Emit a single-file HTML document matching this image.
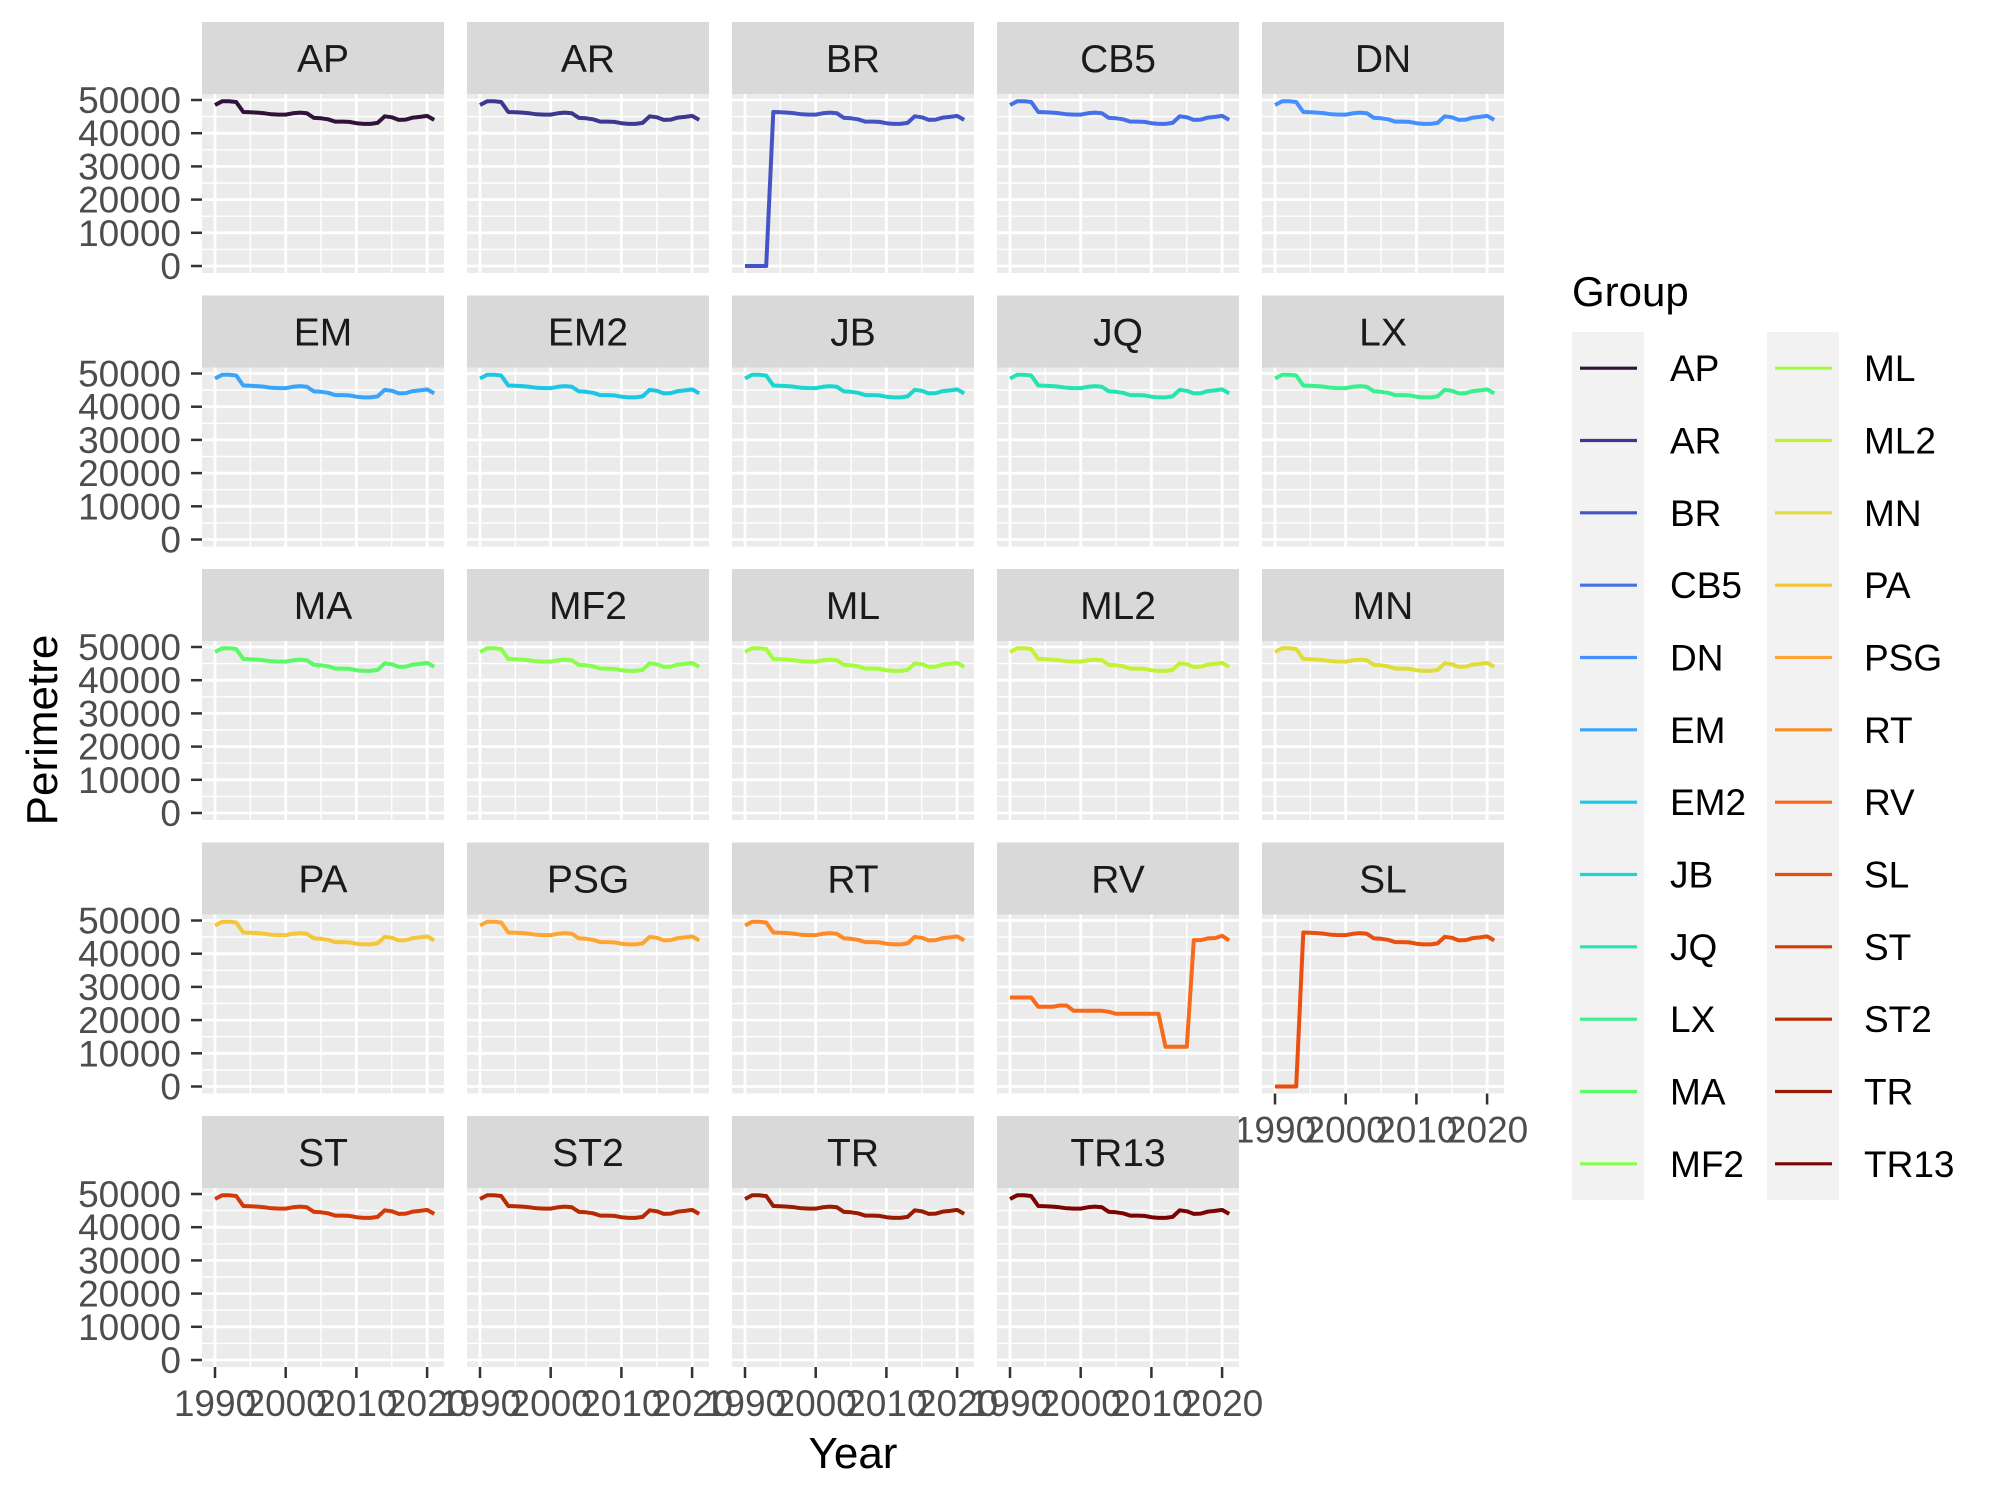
<!DOCTYPE html>
<html><head><meta charset="utf-8"><style>
html,body{margin:0;padding:0;background:#fff}
svg{display:block;font-family:"Liberation Sans",Arial,sans-serif}
</style></head><body>
<svg id="chart" width="2000" height="1500" viewBox="0 0 2000 1500" xmlns="http://www.w3.org/2000/svg"></svg>
<script>
const years = [1990,1991,1992,1993,1994,1995,1996,1997,1998,1999,2000,2001,2002,2003,2004,2005,2006,2007,2008,2009,2010,2011,2012,2013,2014,2015,2016,2017,2018,2019,2020,2021];
const groups = ["AP","AR","BR","CB5","DN","EM","EM2","JB","JQ","LX","MA","MF2","ML","ML2","MN","PA","PSG","RT","RV","SL","ST","ST2","TR","TR13"];
const colors = ["#30123b","#3e378f","#4454c4","#4670e8","#4490fe","#3aa4fc","#1dc6e4","#1bd5cf","#26e4b0","#3af08c","#5cf967","#88fe4c","#a4fc3c","#c4f133","#e0dd36","#f5c53a","#fea632","#fd8a26","#f66b19","#e7500e","#d23a07","#b72b03","#981c01","#7a0403"];
const baseSeries = [48500,49600,49600,49400,46400,46300,46200,46000,45700,45600,45600,46000,46200,46000,44600,44500,44200,43500,43500,43400,43000,42800,42800,43100,45100,44800,44000,44100,44700,44900,45200,44000];
const brSeries = [0,0,0,0,46400,46300,46200,46000,45700,45600,45600,46000,46200,46000,44600,44500,44200,43500,43500,43400,43000,42800,42800,43100,45100,44800,44000,44100,44700,44900,45200,44000];
const slSeries = [0,0,0,0,46400,46300,46200,46000,45700,45600,45600,46000,46200,46000,44600,44500,44200,43500,43500,43400,43000,42800,42800,43100,45100,44800,44000,44100,44700,44900,45200,44000];
const rvSeries = [26800,26800,26800,26800,24000,24000,24000,24400,24400,22800,22800,22800,22800,22800,22500,21900,21900,21900,21900,21900,21900,21900,12000,12000,12000,12000,44100,44100,44600,44700,45400,44000];
const yTicks = [0,10000,20000,30000,40000,50000];
const yTickLabels = ["0","10000","20000","30000","40000","50000"];
const xTicks = [1990,2000,2010,2020];
const xTickLabels = ["1990","2000","2010","2020"];
const seriesFor = {BR: brSeries, SL: slSeries, RV: rvSeries};

const NS = "http://www.w3.org/2000/svg";
const svg = document.getElementById("chart");
function mk(tag, attrs, parent){const e=document.createElementNS(NS,tag);for(const k in attrs)e.setAttribute(k,attrs[k]);(parent||svg).appendChild(e);return e;}

const PW=242, PH=179, SH=72, colX=[202,467,732,997,1262], rowPitch=273.5, top0=22;
function xScale(left,yr){return left+13+(yr-1990)*7.07;}
function yScale(ptop,v){return ptop+172-v*(166/50000);}

groups.forEach((g,i)=>{
  const r=Math.floor(i/5), c=i%5;
  const left=colX[c], stripTop=top0+r*rowPitch, ptop=stripTop+SH;
  const grp=mk("g",{});
  
  
  const strip=mk("rect",{x:left,y:stripTop,width:PW,height:SH,fill:"#d9d9d9"},grp);
  
  
  const st=mk("text",{x:left+PW/2,y:stripTop+SH/2+14,"text-anchor":"middle","font-size":39,fill:"#1a1a1a"},grp);
  st.textContent=g;
  
  
  const bg=mk("rect",{x:left,y:ptop,width:PW,height:PH,fill:"#ebebeb"},grp);
  
  
  [5000,15000,25000,35000,45000].forEach(v=>{const y=yScale(ptop,v);mk("line",{x1:left,x2:left+PW,y1:y,y2:y,stroke:"#fff","stroke-width":1.4},grp);});
  [1995,2005,2015].forEach(v=>{const x=xScale(left,v);mk("line",{x1:x,x2:x,y1:ptop,y2:ptop+PH,stroke:"#fff","stroke-width":1.4},grp);});
  yTicks.forEach(v=>{const y=yScale(ptop,v);mk("line",{x1:left,x2:left+PW,y1:y,y2:y,stroke:"#fff","stroke-width":2.8},grp);});
  xTicks.forEach(v=>{const x=xScale(left,v);mk("line",{x1:x,x2:x,y1:ptop,y2:ptop+PH,stroke:"#fff","stroke-width":2.8},grp);});
  const data=seriesFor[g]||baseSeries;
  const pts=years.map((yr,k)=>xScale(left,yr).toFixed(1)+","+yScale(ptop,data[k]).toFixed(1)).join(" ");
  const pl=mk("polyline",{points:pts,fill:"none",stroke:colors[i],"stroke-width":4,"stroke-linejoin":"round"},grp);
  
  
  if(c===0){
    yTicks.forEach((v,k)=>{const y=yScale(ptop,v);
      mk("line",{x1:left-11,x2:left,y1:y,y2:y,stroke:"#333","stroke-width":2.5},grp);
      const t=mk("text",{x:left-21,y:y+13,"text-anchor":"end","font-size":37,fill:"#4d4d4d"},grp);
      t.textContent=yTickLabels[k];
      
      
    });
  }
  if(r===4 || i===19){
    xTicks.forEach((v,k)=>{const x=xScale(left,v);
      mk("line",{x1:x,x2:x,y1:ptop+PH,y2:ptop+PH+11,stroke:"#333","stroke-width":2.5},grp);
      const t=mk("text",{x:x,y:ptop+PH+49,"text-anchor":"middle","font-size":37,fill:"#4d4d4d"},grp);
      t.textContent=xTickLabels[k];
      
      
    });
  }
});

const xt=mk("text",{x:853,y:1468,"text-anchor":"middle","font-size":44,fill:"#000"});
xt.textContent="Year";


const yt=mk("text",{x:0,y:0,"text-anchor":"middle","font-size":44,fill:"#000",transform:"translate(57,730) rotate(-90)"});
yt.textContent="Perimetre";



const lg=mk("g",{});


const lt=mk("text",{x:1572,y:306,"font-size":42,fill:"#000"},lg);
lt.textContent="Group";


const keyX=[1572,1767], labX=[1670,1864];
const pitch=868/12;
keyX.forEach(kx=>mk("rect",{x:kx,y:332,width:72,height:868,fill:"#f2f2f2"},lg));
groups.forEach((g,i)=>{
  const cc=i<12?0:1, k=i<12?i:i-12;
  const y=332+pitch*(k+0.5);
  const e=mk("g",{},lg);
  
  
  mk("line",{x1:keyX[cc]+8,x2:keyX[cc]+65,y1:y,y2:y,stroke:colors[i],"stroke-width":3.2},e);
  const t=mk("text",{x:labX[cc],y:y+13,"font-size":37,fill:"#000"},e);
  t.textContent=g;
});
</script>
</body></html>
